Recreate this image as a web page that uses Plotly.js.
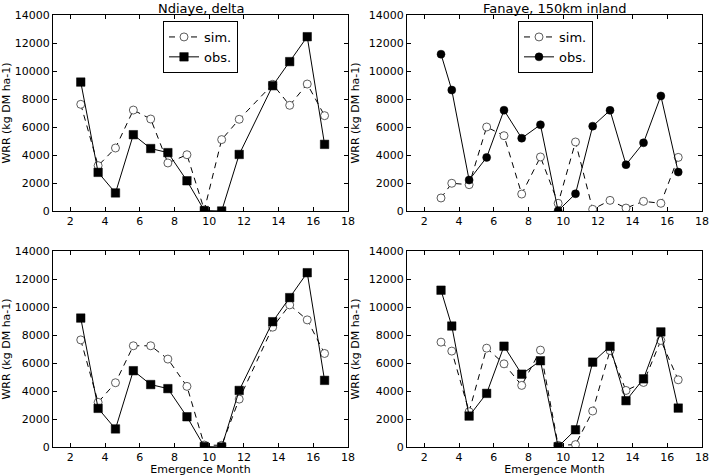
<!DOCTYPE html>
<html>
<head>
<meta charset="utf-8">
<script src="https://cdn.plot.ly/plotly-3.0.1.min.js"></script>
<style>html,body{margin:0;padding:0;background:#fff;}#chart{width:710px;height:476px;}</style>
</head>
<body>
<div id="chart"></div>
<script>
const monthsNdiaye = [2.6, 3.6, 4.6, 5.63, 6.63, 7.62, 8.72, 9.72, 10.72, 11.73, 13.66, 14.64, 15.65, 16.65];
const ndiayeObs = [9210, 2760, 1290, 5450, 4460, 4170, 2160, 30, 0, 4040, 8950, 10670, 12450, 4760];
const ndiayeSimTop = [7620, 3240, 4500, 7210, 6570, 3430, 4020, 70, 5100, 6550, 9050, 7550, 9070, 6810];
const ndiayeSimBottom = [7650, 3190, 4590, 7230, 7230, 6280, 4330, 140, 120, 3420, 8560, 10150, 9080, 6680];

const monthsFanaye = [2.96, 3.58, 4.58, 5.59, 6.59, 7.61, 8.69, 9.71, 10.71, 11.70, 12.70, 13.62, 14.63, 15.63, 16.63];
const fanayeObs = [11200, 8640, 2210, 3830, 7200, 5200, 6160, 20, 1230, 6060, 7190, 3310, 4870, 8220, 2780];
const fanayeSimTop = [930, 1980, 1880, 6000, 5380, 1210, 3860, 550, 4930, 120, 760, 210, 690, 550, 3830];
const fanayeSimBottom = [7490, 6850, 2520, 7060, 5940, 4400, 6920, 120, 170, 2570, 6890, 4040, 4610, 7610, 4800];

const panelTitles = ["Ndiaye, delta", "Fanaye, 150km inland"];
const yTitle = "WRR (kg DM ha-1)";
const xTitle = "Emergence Month";
const simName = "sim.";
const obsName = "obs.";

const FONT = "DejaVu Sans, sans-serif";
const W = 710, H = 476;

function simTrace(x, y, xa, ya, legend, show) {
  return {x: x, y: y, xaxis: xa, yaxis: ya, type: 'scatter', mode: 'lines+markers', name: simName,
    legend: legend, showlegend: show,
    line: {color: '#000', width: 1, dash: '6px,5px'},
    marker: {symbol: 'circle', size: 8, color: '#fff', line: {color: '#333', width: 0.8}}};
}
function obsTrace(x, y, xa, ya, sym, legend, show) {
  return {x: x, y: y, xaxis: xa, yaxis: ya, type: 'scatter', mode: 'lines+markers', name: obsName,
    legend: legend, showlegend: show,
    line: {color: '#000', width: 1},
    marker: {symbol: sym, size: sym === 'square' ? 8.5 : 8, color: '#000', line: {color: '#000', width: 0.5}}};
}

const data = [
  simTrace(monthsNdiaye, ndiayeSimTop, 'x', 'y', 'legend', true),
  obsTrace(monthsNdiaye, ndiayeObs, 'x', 'y', 'square', 'legend', true),
  simTrace(monthsFanaye, fanayeSimTop, 'x2', 'y2', 'legend2', true),
  obsTrace(monthsFanaye, fanayeObs, 'x2', 'y2', 'circle', 'legend2', true),
  simTrace(monthsNdiaye, ndiayeSimBottom, 'x3', 'y3', 'legend', false),
  obsTrace(monthsNdiaye, ndiayeObs, 'x3', 'y3', 'square', 'legend', false),
  simTrace(monthsFanaye, fanayeSimBottom, 'x4', 'y4', 'legend', false),
  obsTrace(monthsFanaye, fanayeObs, 'x4', 'y4', 'square', 'legend', false)
];

const colL = [53 / W, 348 / W];
const colR = [407 / W, 702 / W];
const rowT = [1 - 211 / H, 1 - 15 / H];
const rowB = [1 - 447 / H, 1 - 251 / H];

function xa(domain, anchor, title) {
  const o = {domain: domain, anchor: anchor, range: [1, 18], tick0: 2, dtick: 2,
    ticks: 'inside', ticklen: 4, tickwidth: 1, tickcolor: '#000',
    showline: true, linecolor: '#000', linewidth: 1, mirror: 'allticks',
    showgrid: false, zeroline: false, tickfont: {family: FONT, size: 11, color: '#000'}};
  if (title) o.title = {text: title, font: {family: FONT, size: 11, color: '#000'}, standoff: 4};
  return o;
}
function ya(domain, anchor) {
  return {domain: domain, anchor: anchor, range: [0, 14000], dtick: 2000, tickformat: 'd',
    ticks: 'inside', ticklen: 4, tickwidth: 1, tickcolor: '#000',
    showline: true, linecolor: '#000', linewidth: 1, mirror: 'allticks',
    showgrid: false, zeroline: false, tickfont: {family: FONT, size: 11, color: '#000'},
    title: {text: yTitle, font: {family: FONT, size: 11, color: '#000'}, standoff: 6}};
}

const legendBase = {bgcolor: '#fff', bordercolor: '#000', borderwidth: 1,
  font: {family: FONT, size: 13, color: '#000'}, xanchor: 'left', yanchor: 'top',
  tracegroupgap: 0, itemwidth: 30};

const layout = {
  width: W, height: H, margin: {l: 0, r: 0, t: 0, b: 0},
  paper_bgcolor: '#fff', plot_bgcolor: '#fff',
  font: {family: FONT, color: '#000'}, separators: '.',
  xaxis: xa(colL, 'y'), yaxis: ya(rowT, 'x'),
  xaxis2: xa(colR, 'y2'), yaxis2: ya(rowT, 'x2'),
  xaxis3: xa(colL, 'y3', xTitle), yaxis3: ya(rowB, 'x3'),
  xaxis4: xa(colR, 'y4', xTitle), yaxis4: ya(rowB, 'x4'),
  legend: Object.assign({}, legendBase, {x: 163 / W, y: 1 - 21 / H}),
  legend2: Object.assign({}, legendBase, {x: 518 / W, y: 1 - 21 / H}),
  annotations: [
    {text: panelTitles[0], xref: 'paper', yref: 'paper', x: (colL[0] + colL[1]) / 2, y: 1,
      xanchor: 'center', yanchor: 'top', borderpad: 0, showarrow: false, font: {family: FONT, size: 13, color: '#000'}},
    {text: panelTitles[1], xref: 'paper', yref: 'paper', x: (colR[0] + colR[1]) / 2, y: 1,
      xanchor: 'center', yanchor: 'top', borderpad: 0, showarrow: false, font: {family: FONT, size: 13, color: '#000'}}
  ]
};

Plotly.newPlot('chart', data, layout, {displayModeBar: false, staticPlot: true});
</script>
</body>
</html>
